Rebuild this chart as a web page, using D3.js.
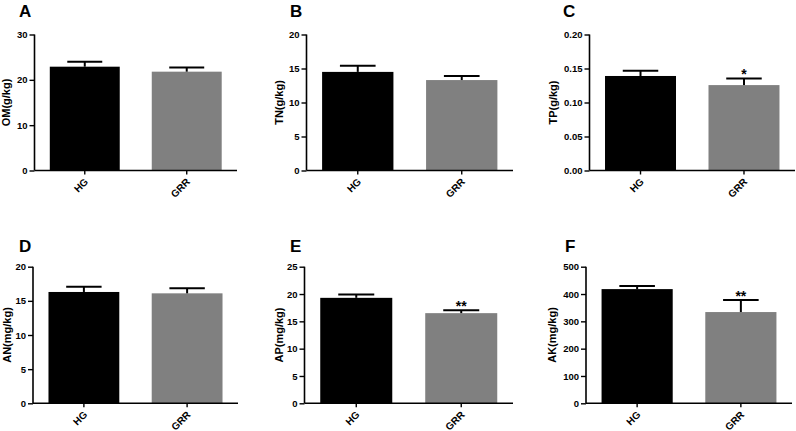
<!DOCTYPE html>
<html>
<head>
<meta charset="utf-8">
<script src="https://cdn.jsdelivr.net/npm/d3@7"></script>
<style>
  html, body { margin: 0; padding: 0; background: #fff; }
  svg { display: block; }
  text { font-family: Arial, "Liberation Sans", Helvetica, sans-serif; font-weight: bold; fill: #000; }
</style>
</head>
<body>
<svg id="chart" width="796" height="431"></svg>
<script>
// ---- data ----
const panelLetters = ["A", "B", "C", "D", "E", "F"];
const yLabels = ["OM(g/kg)", "TN(g/kg)", "TP(g/kg)", "AN(mg/kg)", "AP(mg/kg)", "AK(mg/kg)"];
const categories = ["HG", "GRR"];
const hgMeans  = [22.9, 14.5, 0.139, 16.3, 19.3, 418];
const hgErrors = [1.1, 0.9, 0.0076, 0.75, 0.6, 11];
const grrMeans  = [21.8, 13.3, 0.1256, 16.1, 16.5, 334];
const grrErrors = [0.9, 0.6, 0.0097, 0.75, 0.55, 44];
const yMaxes = [30, 20, 0.20, 20, 25, 500];
const yTickSteps = [10, 5, 0.05, 5, 5, 100];
const yTickDecimals = [0, 0, 2, 0, 0, 0];
const significance = ["", "", "*", "", "**", "**"];
const barColors = ["#000000", "#808080"];

// ---- layout ----
const axisLeft = [34.5, 306.5, 589.5, 33, 304.5, 586];
const axisRight = [237, 513, 795, 238, 513, 792];
const rowTop = [34.5, 266.7];
const rowBottom = [170.5, 403.3];
const letterX = [19, 290, 563, 19, 290, 565];
const letterY = [17, 17, 17, 252, 252, 252];
const yLabelX = [9.5, 283, 556.5, 11, 283, 556];

const svg = d3.select("#chart");

panelLetters.forEach((letter, i) => {
  const row = i < 3 ? 0 : 1;
  const y0 = rowBottom[row], y1 = rowTop[row];
  const g = svg.append("g");

  const x = d3.scaleBand()
    .domain(categories)
    .range([axisLeft[i], axisRight[i]])
    .paddingInner(0.314)
    .paddingOuter(0.15);

  const y = d3.scaleLinear().domain([0, yMaxes[i]]).range([y0, y1]);
  const ticks = d3.range(0, yMaxes[i] + yTickSteps[i] / 2, yTickSteps[i]);

  const means = [hgMeans[i], grrMeans[i]];
  const errs = [hgErrors[i], grrErrors[i]];

  // bars
  g.selectAll("rect.bar").data(categories).join("rect")
    .attr("class", "bar")
    .attr("x", d => x(d))
    .attr("width", x.bandwidth())
    .attr("y", (d, k) => y(means[k]))
    .attr("height", (d, k) => y(0) - y(means[k]))
    .attr("fill", (d, k) => barColors[k]);

  // error bars (upper only)
  categories.forEach((c, k) => {
    const cx = x(c) + x.bandwidth() / 2;
    const top = y(means[k] + errs[k]);
    g.append("line")
      .attr("x1", cx).attr("x2", cx)
      .attr("y1", y(means[k])).attr("y2", top)
      .attr("stroke", "#000").attr("stroke-width", 2);
    g.append("line")
      .attr("x1", cx - x.bandwidth() / 4).attr("x2", cx + x.bandwidth() / 4)
      .attr("y1", top).attr("y2", top)
      .attr("stroke", "#000").attr("stroke-width", 2);
    if (k === 1 && significance[i]) {
      g.append("text")
        .attr("x", cx).attr("y", top + 1)
        .attr("text-anchor", "middle")
        .style("font-size", "14px")
        .text(significance[i]);
    }
  });

  // y axis
  const yAxis = d3.axisLeft(y)
    .tickValues(ticks)
    .tickSize(5)
    .tickPadding(2)
    .tickFormat(d3.format("." + yTickDecimals[i] + "f"));
  const ya = g.append("g")
    .attr("transform", `translate(${axisLeft[i]},0)`)
    .call(yAxis);
  ya.select(".domain").attr("d", `M0,${y0}V${y1}`).attr("stroke-width", 1.6);
  ya.selectAll(".tick line").attr("stroke-width", 1.4);
  ya.selectAll(".tick text").style("font-size", "9.5px").style("font-weight", "bold")
    .style("font-family", "Arial, 'Liberation Sans', sans-serif");

  // x axis
  const xAxis = d3.axisBottom(x).tickSize(4).tickFormat("");
  const xa = g.append("g")
    .attr("transform", `translate(0,${y0})`)
    .call(xAxis);
  xa.select(".domain").attr("d", `M${axisLeft[i]},0H${axisRight[i]}`).attr("stroke-width", 1.6);
  xa.selectAll(".tick line").attr("stroke-width", 1.4);

  // x category labels rotated
  categories.forEach(c => {
    const cx = x(c) + x.bandwidth() / 2;
    g.append("text")
      .attr("transform", `translate(${cx + 4},${y0 + 12}) rotate(-45)`)
      .attr("text-anchor", "end")
      .style("font-size", "10px")
      .text(c);
  });

  // y label
  g.append("text")
    .attr("transform", `translate(${yLabelX[i]},${(y0 + y1) / 2}) rotate(-90)`)
    .attr("text-anchor", "middle")
    .style("font-size", "11px")
    .text(yLabels[i]);

  // panel letter
  g.append("text")
    .attr("x", letterX[i]).attr("y", letterY[i])
    .style("font-size", "17px")
    .text(letter);
});
</script>
</body>
</html>
